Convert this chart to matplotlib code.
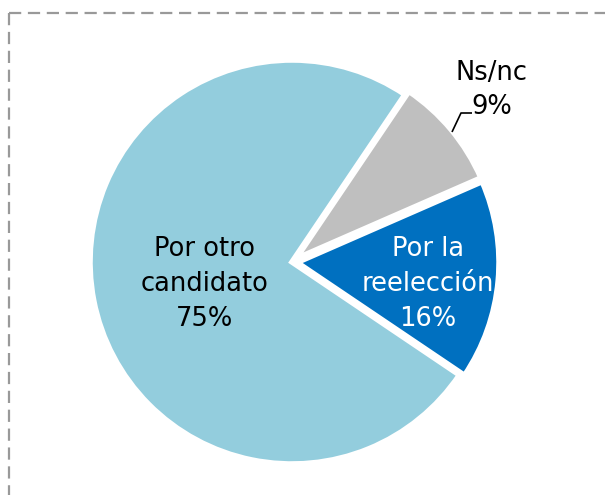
import matplotlib
matplotlib.use("Agg")
import matplotlib.pyplot as plt
from matplotlib.lines import Line2D

# ---- data ----
categories = ["Ns/nc", "Por la reelección", "Por otro candidato"]
label_lines = ["Ns/nc", "Por la\nreelección", "Por otro\ncandidato"]
values = [9, 16, 75]
pct_labels = ["9%", "16%", "75%"]
colors = ["#BFBFBF", "#0070C0", "#93CDDD"]
text_colors = ["#000000", "#FFFFFF", "#000000"]
explode = [0.025, 0.025, 0.0]

W, H = 605, 495
DPI = 100
CX, CY, R = 292, 262, 202  # pixel centre (from top) and radius

fig = plt.figure(figsize=(W / DPI, H / DPI), dpi=DPI)
ax = fig.add_axes([0, 0, 1, 1])

wedges, _ = ax.pie(values, colors=colors, startangle=56, counterclock=False,
                   explode=explode, radius=1.0,
                   wedgeprops=dict(edgecolor="white", linewidth=4))

ax.set_xlim(-CX / R, (W - CX) / R)
ax.set_ylim(-(H - CY) / R, CY / R)
ax.set_aspect("auto")
ax.axis("off")


def px(x, y):
    return ((x - CX) / R, (CY - y) / R)


fs = 18.5
ls = 1.43
# inside labels
x, y = px(205, 284)
ax.text(x, y, label_lines[2] + "\n" + pct_labels[2], ha="center", va="center",
        fontsize=fs, color=text_colors[2], linespacing=ls)
x, y = px(428, 284)
ax.text(x, y, label_lines[1] + "\n" + pct_labels[1], ha="center", va="center",
        fontsize=fs, color=text_colors[1], linespacing=ls)
# outside label for Ns/nc
x, y = px(492, 90)
ax.text(x, y, label_lines[0] + "\n" + pct_labels[0], ha="center", va="center",
        fontsize=fs, color=text_colors[0], linespacing=ls)
# leader line
pts = [px(452, 132), px(461, 113), px(472, 113)]
ax.plot([p[0] for p in pts], [p[1] for p in pts], color="black", lw=1.2,
        solid_capstyle="butt")

# dashed frame (top and left)
def fpx(x, y):
    return (x / W, 1 - y / H)

x0, y0 = fpx(9, 13)
top = Line2D([x0, 1.0], [y0, y0], transform=fig.transFigure,
             color="#999999", lw=1.6, dashes=(5.5, 3))
left = Line2D([x0, x0], [y0, 0.0], transform=fig.transFigure,
              color="#999999", lw=1.6, dashes=(5.5, 3))
fig.add_artist(top)
fig.add_artist(left)

fig.savefig("out.png", dpi=DPI)
